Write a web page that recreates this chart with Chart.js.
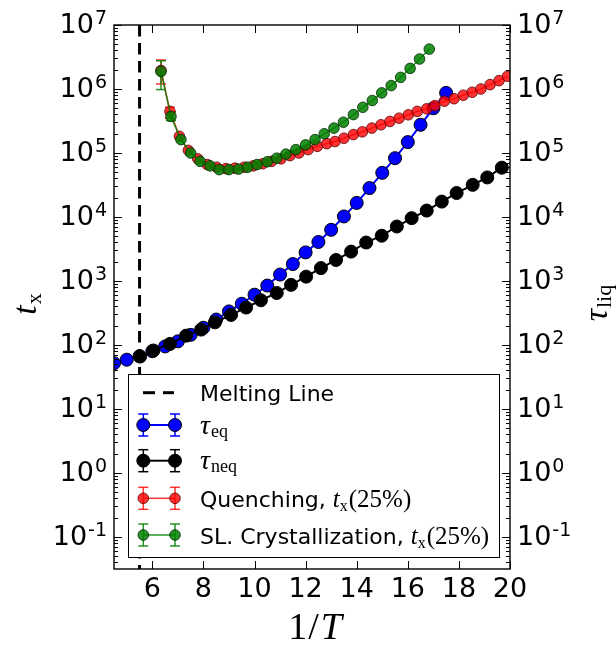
<!DOCTYPE html>
<html>
<head>
<meta charset="utf-8">
<script src="https://cdn.jsdelivr.net/npm/chart.js@4.4.0/dist/chart.umd.min.js"></script>
<style>
  html, body { margin: 0; padding: 0; background: #fff; }
</style>
</head>
<body>
<canvas id="myChart" width="616" height="645"></canvas>
<script>
// values
const meltingX = 5.5;

const eqX = [4.5, 5.0, 5.5, 6.0, 6.5, 7.0, 7.5, 8.0, 8.5, 9.0, 9.5, 10.0, 10.5, 11.0,
             11.5, 12.0, 12.5, 13.0, 13.5, 14.0, 14.5, 15.0, 15.5, 16.0, 16.5, 17.0, 17.5];
const eqY = [52, 59, 67, 80, 95, 114, 144, 186, 250, 335, 441, 611, 849, 1260,
             1840, 2800, 4070, 6310, 10200, 16600, 28300, 49000, 83000, 148000, 276000, 500000, 870000];

const neqX = [5.52, 6.04, 6.69, 7.32, 7.91, 8.45, 9.08, 9.67, 10.25, 10.87, 11.43, 12.02, 12.6,
              13.19, 13.78, 14.37, 14.98, 15.57, 16.15, 16.74, 17.33, 17.91, 18.54, 19.11, 19.68];
const neqY = [66, 82, 104, 140, 174, 226, 295, 385, 500, 650, 870, 1170, 1590,
              2130, 2880, 3990, 5100, 7100, 9600, 12600, 17400, 23700, 31800, 41500, 59000];

const quenchX = [6.34, 6.69, 7.06, 7.41, 7.78, 8.15, 8.52, 8.88, 9.23, 9.6, 9.95, 10.32, 10.67,
                 11.04, 11.39, 11.74, 12.1, 12.46, 12.83, 13.15, 13.5, 13.87, 14.22, 14.59, 14.95,
                 15.3, 15.66, 16.02, 16.37, 16.74, 17.06, 17.43, 17.81, 18.17, 18.52, 18.86, 19.22, 19.57, 19.9];
const quenchY = [1950000, 447000, 182000, 110000, 81000, 66000, 60000, 57000, 58000, 60000, 63000, 68000, 74000,
                 81000, 91000, 100000, 113000, 127000, 140000, 151000, 170000, 194000, 214000, 245000, 276000,
                 311000, 350000, 395000, 447000, 490000, 550000, 645000, 705000, 800000, 890000, 1000000, 1170000, 1350000, 1580000];
const quenchErrLo = [1200000, 350000];
const quenchErrHi = [2840000, 520000];

const crystX = [6.34, 6.73, 7.12, 7.5, 7.87, 8.26, 8.62, 9.0, 9.37, 9.73, 10.1, 10.5, 10.87, 11.23,
                11.62, 12.0, 12.37, 12.73, 13.11, 13.48, 13.87, 14.24, 14.61, 14.98, 15.35, 15.72, 16.09, 16.46, 16.84];
const crystY = [1880000, 373000, 162000, 100000, 74000, 63000, 55000, 55000, 56000, 60000, 66000, 73000, 83000, 96000,
                113000, 134000, 162000, 200000, 245000, 303000, 398000, 518000, 660000, 870000, 1130000, 1520000, 2100000, 2940000, 4200000];
const crystErrLo = [980000, 320000];
const crystErrHi = [2760000, 440000];

const xMin = 4.5, xMax = 20;
const yMin = 0.031623, yMax = 1e7;
const xTicks = [6, 8, 10, 12, 14, 16, 18, 20];
const yExps = [-1, 0, 1, 2, 3, 4, 5, 6, 7];

const SANS = '"DejaVu Sans"';
const SERIF = '"Liberation Serif"';

const BLUE = '#0000ff';
const RED = 'rgba(255,0,0,0.8)';
const GREEN = 'rgba(0,128,0,0.85)';

function pts(xs, ys) {
    return xs.map((x, i) => ({ x: x, y: ys[i] }));
}

function segWidth(ctx, segs) {
    let w = 0;
    for (const s of segs) {
        ctx.font = s.font;
        w += ctx.measureText(s.t).width + (s.gap || 0);
    }
    return w;
}

function drawSegs(ctx, segs, x, y) {
    for (const s of segs) {
        ctx.font = s.font;
        ctx.fillText(s.t, x, y + (s.dy || 0));
        x += ctx.measureText(s.t).width + (s.gap || 0);
    }
    return x;
}

function seg(ctx, x1, y1, x2, y2) {
    ctx.beginPath();
    ctx.moveTo(x1, y1);
    ctx.lineTo(x2, y2);
    ctx.stroke();
}

// error bars, under the markers
const errorBars = {
    id: 'errorBars',
    beforeDatasetsDraw(chart) {
        const ctx = chart.ctx, xs = chart.scales.x, ys = chart.scales.y, a = chart.chartArea;
        const sets = [
            { x: quenchX, lo: quenchErrLo, hi: quenchErrHi, color: RED },
            { x: crystX, lo: crystErrLo, hi: crystErrHi, color: GREEN }
        ];
        ctx.save();
        ctx.beginPath();
        ctx.rect(a.left, a.top, a.width, a.height);
        ctx.clip();
        ctx.lineWidth = 1.5;
        for (const s of sets) {
            ctx.strokeStyle = s.color;
            for (let i = 0; i < s.lo.length; i++) {
                const px = xs.getPixelForValue(s.x[i]);
                const p1 = ys.getPixelForValue(s.lo[i]);
                const p2 = ys.getPixelForValue(s.hi[i]);
                seg(ctx, px, p1, px, p2);
                seg(ctx, px - 5, p1, px + 5, p1);
                seg(ctx, px - 5, p2, px + 5, p2);
            }
        }
        ctx.restore();
    }
};

// frame, inward ticks, tick labels, axis titles and legend
const frame = {
    id: 'frame',
    afterDraw(chart) {
        const ctx = chart.ctx, xs = chart.scales.x, ys = chart.scales.y, a = chart.chartArea;
        ctx.save();
        ctx.strokeStyle = '#000';
        ctx.fillStyle = '#000';
        ctx.lineWidth = 1;

        // y ticks (log, with minors)
        for (let e = -2; e <= 7; e++) {
            for (let m = 1; m < 10; m++) {
                const v = m * Math.pow(10, e);
                if (v < yMin || v > yMax) continue;
                const py = Math.round(ys.getPixelForValue(v)) + 0.5;
                const len = m === 1 ? 8 : 4;
                seg(ctx, a.left, py, a.left + len, py);
                seg(ctx, a.right, py, a.right - len, py);
            }
        }
        // x ticks
        for (const t of xTicks) {
            const px = Math.round(xs.getPixelForValue(t)) + 0.5;
            seg(ctx, px, a.bottom, px, a.bottom - 8);
            seg(ctx, px, a.top, px, a.top + 8);
        }
        ctx.lineWidth = 1.4;
        ctx.strokeRect(a.left, a.top, a.right - a.left, a.bottom - a.top);

        // y tick labels, both sides
        ctx.textBaseline = 'alphabetic';
        ctx.textAlign = 'left';
        for (const e of yExps) {
            const py = ys.getPixelForValue(Math.pow(10, e));
            const segs = [
                { t: '10', font: '27px ' + SANS, gap: 1 },
                { t: String(e), font: '19px ' + SANS, dy: -8.7 }
            ];
            const w = segWidth(ctx, segs);
            drawSegs(ctx, segs, a.left - 7 - w, py + 7.7);
            drawSegs(ctx, segs, a.right + 7, py + 7.7);
        }
        // x tick labels
        ctx.textAlign = 'center';
        ctx.font = '27px ' + SANS;
        for (const t of xTicks) {
            ctx.fillText(String(t), xs.getPixelForValue(t), a.bottom + 27.5);
        }
        ctx.textAlign = 'left';

        // x title 1/T
        const xt = [
            { t: '1', font: '38px ' + SERIF, gap: 1 },
            { t: '/', font: '38px ' + SERIF, gap: 2 },
            { t: 'T', font: 'italic 38px ' + SERIF }
        ];
        drawSegs(ctx, xt, 315 - segWidth(ctx, xt) / 2, 639);

        // left title t_x
        const lt = [
            { t: 't', font: 'italic 34px ' + SERIF, gap: 1 },
            { t: 'x', font: '22px ' + SERIF, dy: 5 }
        ];
        ctx.save();
        ctx.translate(36, 304);
        ctx.rotate(-Math.PI / 2);
        drawSegs(ctx, lt, -segWidth(ctx, lt) / 2, 0);
        ctx.restore();

        // right title tau_liq
        const rt = [
            { t: '\u03c4', font: 'italic 34px ' + SERIF, gap: 1 },
            { t: 'liq', font: '22px ' + SERIF, dy: 4 }
        ];
        ctx.save();
        ctx.translate(607, 303);
        ctx.rotate(-Math.PI / 2);
        drawSegs(ctx, rt, -segWidth(ctx, rt) / 2, 0);
        ctx.restore();

        // legend
        const lx = 128.5, ly = 374.5, lw = 371, lh = 183;
        ctx.fillStyle = '#fff';
        ctx.fillRect(lx, ly, lw, lh);
        ctx.strokeStyle = '#000';
        ctx.lineWidth = 1;
        ctx.strokeRect(lx, ly, lw, lh);
        ctx.fillStyle = '#000';

        const hx1 = 143.3, hx2 = 175, tx = 200;
        // melting line handle
        let ry = 392.7;
        ctx.lineWidth = 3;
        seg(ctx, 143, ry, 155, ry);
        seg(ctx, 163, ry, 174, ry);
        ctx.font = '22px ' + SANS;
        ctx.fillText('Melting Line', tx, ry + 8);

        const rows = [
            { y: 425, color: BLUE, fill: BLUE, edge: '#000', r: 6.5, lw: 2,
              label: [{ t: '\u03c4', font: 'italic 28px ' + SERIF, gap: 1 }, { t: 'eq', font: '18px ' + SERIF, dy: 3 }] },
            { y: 460.7, color: '#000', fill: '#000', edge: '#000', r: 6.5, lw: 2,
              label: [{ t: '\u03c4', font: 'italic 28px ' + SERIF, gap: 1 }, { t: 'neq', font: '18px ' + SERIF, dy: 3 }] },
            { y: 498.3, color: RED, fill: RED, edge: 'rgba(90,0,0,0.8)', r: 5.3, lw: 1.5,
              label: [{ t: 'Quenching, ', font: '22px ' + SANS }, { t: 't', font: 'italic 25px ' + SERIF },
                      { t: 'x', font: '16px ' + SERIF, dy: 4, gap: 1 }, { t: '(25%)', font: '25px ' + SERIF }] },
            { y: 535, color: GREEN, fill: GREEN, edge: 'rgba(0,40,0,0.8)', r: 5.3, lw: 1.5,
              label: [{ t: 'SL. Crystallization, ', font: '22px ' + SANS }, { t: 't', font: 'italic 25px ' + SERIF },
                      { t: 'x', font: '16px ' + SERIF, dy: 4, gap: 1 }, { t: '(25%)', font: '25px ' + SERIF }] }
        ];
        for (const r of rows) {
            ctx.strokeStyle = r.color;
            ctx.lineWidth = r.lw;
            seg(ctx, hx1, r.y, hx2, r.y);
            ctx.lineWidth = 1.5;
            for (const hx of [hx1, hx2]) {
                seg(ctx, hx, r.y - 11, hx, r.y + 11);
                seg(ctx, hx - 5, r.y - 11, hx + 5, r.y - 11);
                seg(ctx, hx - 5, r.y + 11, hx + 5, r.y + 11);
            }
            for (const hx of [hx1, hx2]) {
                ctx.beginPath();
                ctx.arc(hx, r.y, r.r, 0, Math.PI * 2);
                ctx.fillStyle = r.fill;
                ctx.fill();
                ctx.lineWidth = 1;
                ctx.strokeStyle = r.edge;
                ctx.stroke();
            }
            ctx.fillStyle = '#000';
            drawSegs(ctx, r.label, tx, r.y + 8.5);
        }
        ctx.restore();
    }
};

const ctx = document.getElementById('myChart').getContext('2d');

const myChart = new Chart(ctx, {
    type: 'line',
    data: {
        datasets: [
            {
                label: 'SL. Crystallization, t_x(25%)',
                data: pts(crystX, crystY),
                borderColor: GREEN,
                backgroundColor: GREEN,
                pointBorderColor: 'rgba(0,40,0,0.8)',
                pointBorderWidth: 1,
                pointRadius: 5.3,
                borderWidth: 1.5,
                order: 0
            },
            {
                label: 'Quenching, t_x(25%)',
                data: pts(quenchX, quenchY),
                borderColor: RED,
                backgroundColor: RED,
                pointBorderColor: 'rgba(90,0,0,0.8)',
                pointBorderWidth: 1,
                pointRadius: 5.3,
                borderWidth: 1.5,
                order: 1
            },
            {
                label: 'tau_neq',
                data: pts(neqX, neqY),
                borderColor: '#000',
                backgroundColor: '#000',
                pointBorderColor: '#000',
                pointBorderWidth: 1,
                pointRadius: 6.5,
                borderWidth: 2,
                order: 2
            },
            {
                label: 'tau_eq',
                data: pts(eqX, eqY),
                borderColor: BLUE,
                backgroundColor: BLUE,
                pointBorderColor: '#000',
                pointBorderWidth: 1,
                pointRadius: 6.5,
                borderWidth: 2,
                order: 3
            },
            {
                label: 'Melting Line',
                data: [{ x: meltingX, y: yMax }, { x: meltingX, y: yMin }],
                borderColor: '#000',
                borderWidth: 3,
                borderDash: [11.5, 6.5],
                pointRadius: 0,
                order: 4
            }
        ]
    },
    options: {
        responsive: false,
        animation: false,
        devicePixelRatio: 1,
        layout: { padding: { left: 114, right: 106, top: 25, bottom: 76 } },
        elements: { line: { tension: 0 } },
        scales: {
            x: { type: 'linear', min: xMin, max: xMax, display: false },
            y: { type: 'logarithmic', min: yMin, max: yMax, display: false }
        },
        plugins: {
            legend: { display: false },
            tooltip: { enabled: false }
        }
    },
    plugins: [errorBars, frame]
});
</script>
</body>
</html>
